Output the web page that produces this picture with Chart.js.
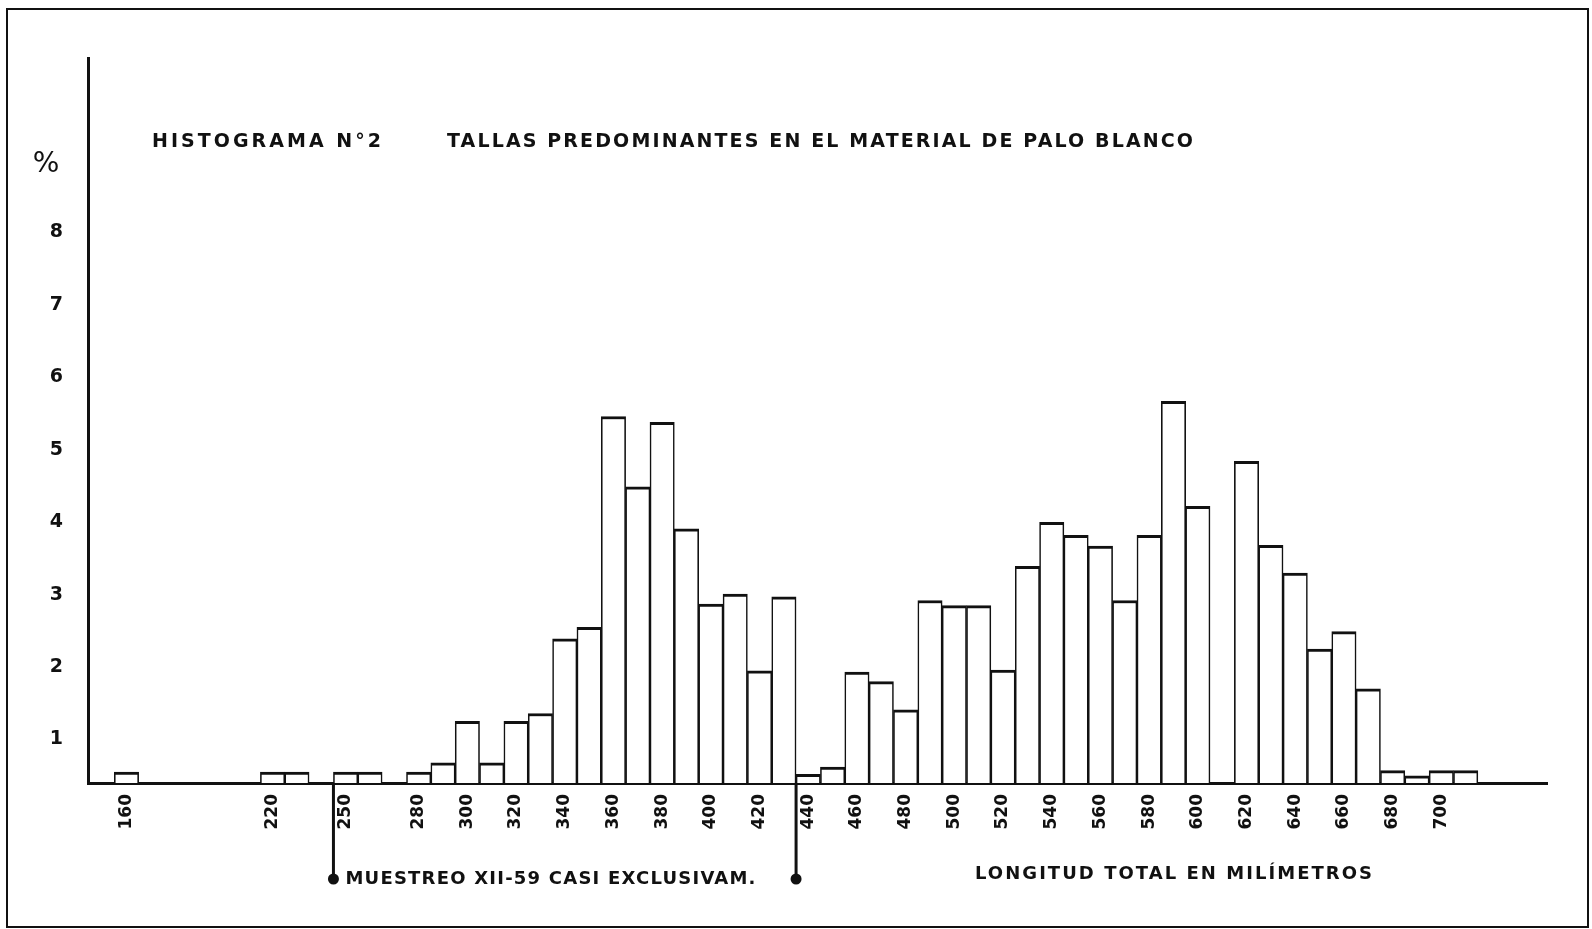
<!DOCTYPE html>
<html>
<head>
<meta charset="utf-8">
<title>Histograma Nº2</title>
<script src="https://cdn.jsdelivr.net/npm/chart.js@4.4.1/dist/chart.umd.min.js"></script>
<style>
  html, body { margin: 0; padding: 0; background: #fff; }
  canvas { display: block; }
</style>
</head>
<body>
<canvas id="histo" width="1592" height="929"></canvas>
<script>
// Length classes (mm, bin centre as labelled on the axis) and % of specimens
const lengths = [160, 170, 180, 190, 200, 210, 220, 230, 240, 250, 260, 270, 280, 290, 300, 310,
                 320, 330, 340, 350, 360, 370, 380, 390, 400, 410, 420, 430, 440, 450, 460, 470,
                 480, 490, 500, 510, 520, 530, 540, 550, 560, 570, 580, 590, 600, 610, 620, 630,
                 640, 650, 660, 670, 680, 690, 700, 710];
const percent = [0.55, null, null, null, null, null, 0.55, 0.55, null, 0.55, 0.55, null, 0.55, 0.68, 1.25, 0.68,
                 1.25, 1.36, 2.39, 2.55, 5.46, 4.49, 5.38, 3.91, 2.87, 3.01, 1.95, 2.97, 0.52, 0.62, 1.93, 1.80,
                 1.41, 2.92, 2.85, 2.85, 1.96, 3.39, 4.00, 3.82, 3.67, 2.92, 3.82, 5.67, 4.22, null, 4.84, 3.68,
                 3.30, 2.25, 2.49, 1.70, 0.57, 0.50, 0.57, 0.57];

const xTickValues = [160, 220, 250, 280, 300, 320, 340, 360, 380, 400, 420, 440, 460, 480, 500,
                     520, 540, 560, 580, 600, 620, 640, 660, 680, 700];
const yTickValues = [1, 2, 3, 4, 5, 6, 7, 8];

// classes covered almost only by sample XII-59
const sampleBins = [250, 430];

const titleLeft = 'HISTOGRAMA N°2';
const titleRight = 'TALLAS PREDOMINANTES EN EL MATERIAL DE PALO BLANCO';
const sampleNote = 'MUESTREO XII-59 CASI EXCLUSIVAM.';
const xAxisNote = 'LONGITUD TOTAL EN MILÍMETROS';

const Y_MIN = 0.40;
const Y_MAX = 10.41;
const X_MIN = 144.2;
const X_MAX = 743.4;
const FONT = '"DejaVu Sans", sans-serif';

// draw text stretched to a given width with letter spacing
function spacedText(ctx, text, x, y, width, font) {
    ctx.font = font;
    ctx.letterSpacing = '0px';
    const natural = ctx.measureText(text).width;
    const ls = (width - natural) / (text.length - 1);
    ctx.letterSpacing = ls + 'px';
    ctx.textAlign = 'left';
    ctx.textBaseline = 'middle';
    ctx.fillText(text, x, y);
    ctx.letterSpacing = '0px';
}

const decorations = {
    id: 'decorations',
    beforeDraw(chart) {
        const ctx = chart.ctx;
        ctx.save();
        ctx.fillStyle = '#fff';
        ctx.fillRect(0, 0, chart.width, chart.height);
        ctx.strokeStyle = '#111';
        ctx.lineWidth = 2;
        ctx.strokeRect(7, 9, chart.width - 11, chart.height - 11);
        ctx.restore();
    },
    afterDraw(chart) {
        const ctx = chart.ctx;
        const xs = chart.scales.x;
        const bottom = chart.chartArea.bottom;
        ctx.save();
        ctx.fillStyle = '#111';
        ctx.strokeStyle = '#111';

        ctx.font = '28px ' + FONT;
        ctx.textAlign = 'center';
        ctx.textBaseline = 'middle';
        ctx.fillText('%', 46, 165);

        spacedText(ctx, titleLeft, 152, 142, 229, 'bold 19px ' + FONT);
        spacedText(ctx, titleRight, 447, 142, 746, 'bold 19px ' + FONT);

        // sample range markers hanging below the axis
        const edges = [xs.getPixelForValue(sampleBins[0] - 5), xs.getPixelForValue(sampleBins[1] + 5)];
        edges.forEach(px => {
            ctx.lineWidth = 3;
            ctx.beginPath();
            ctx.moveTo(px, bottom);
            ctx.lineTo(px, 879);
            ctx.stroke();
            ctx.beginPath();
            ctx.arc(px, 879, 5.5, 0, Math.PI * 2);
            ctx.fill();
        });
        spacedText(ctx, sampleNote, edges[0] + 12, 879, 410, 'bold 18px ' + FONT);
        spacedText(ctx, xAxisNote, 975, 874, 397, 'bold 18px ' + FONT);
        ctx.restore();
    }
};

// empty classes get no bar at all
const points = [];
lengths.forEach((l, i) => {
    if (percent[i] !== null) points.push({ x: l, y: percent[i] });
});

new Chart(document.getElementById('histo'), {
    type: 'bar',
    data: {
        datasets: [{
            data: points,
            backgroundColor: '#fff',
            borderColor: '#111',
            borderWidth: { top: 3, left: 1.6, right: 1.6, bottom: 0 },
            borderSkipped: 'bottom',
            base: Y_MIN,
            barPercentage: 1,
            categoryPercentage: 1
        }]
    },
    options: {
        responsive: false,
        animation: false,
        events: [],
        layout: { padding: { left: 0, top: 58, right: 45, bottom: 0 } },
        plugins: {
            legend: { display: false },
            tooltip: { enabled: false },
            title: { display: false }
        },
        scales: {
            x: {
                type: 'linear',
                min: X_MIN,
                max: X_MAX,
                offset: false,
                grid: { display: false, drawTicks: false },
                border: { display: true, color: '#111', width: 3 },
                afterBuildTicks: axis => { axis.ticks = xTickValues.map(v => ({ value: v })); },
                afterFit: axis => { axis.height = 146; },
                ticks: {
                    autoSkip: false,
                    minRotation: 90,
                    maxRotation: 90,
                    padding: 11,
                    color: '#111',
                    font: { family: FONT, size: 17, weight: 'bold' },
                    callback: v => String(v)
                }
            },
            y: {
                type: 'linear',
                min: Y_MIN,
                max: Y_MAX,
                beginAtZero: false,
                grid: { display: false, drawTicks: false },
                border: { display: true, color: '#111', width: 3 },
                afterBuildTicks: axis => { axis.ticks = yTickValues.map(v => ({ value: v })); },
                afterFit: axis => { axis.width = 88; },
                ticks: {
                    padding: 25,
                    color: '#111',
                    font: { family: FONT, size: 19, weight: 'bold' },
                    callback: v => String(v)
                }
            }
        }
    },
    plugins: [decorations]
});
</script>
</body>
</html>
